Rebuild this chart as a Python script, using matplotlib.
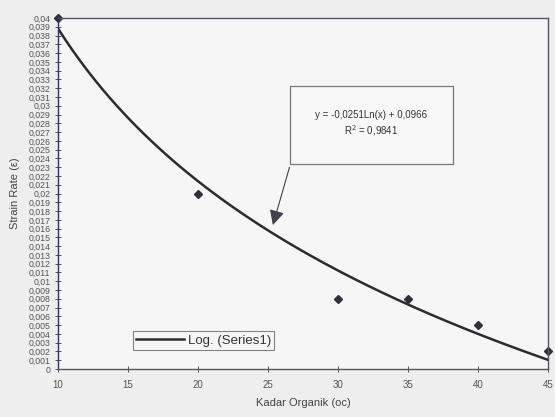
import numpy as np
import matplotlib.pyplot as plt
from matplotlib.ticker import MultipleLocator, FuncFormatter

plt.rcParams['font.family'] = ['Liberation Sans', 'DejaVu Sans']

# ── data ──────────────────────────────────────────────────────────────────────
kadar = [10, 20, 30, 35, 40, 45]
strain = [0.04, 0.02, 0.008, 0.008, 0.005, 0.002]

# log trend line: y = a*ln(x) + b
fit_a = -0.0251
fit_b = 0.0966
fit_r2 = 0.9841

x_ticks = [10, 15, 20, 25, 30, 35, 40, 45]


def comma_fmt(v, pos):
    if abs(v) < 1e-9:
        return '0'
    s = f'{v:.3f}'.rstrip('0').rstrip('.')
    return s.replace('.', ',')


# ── plot ──────────────────────────────────────────────────────────────────────
fig = plt.figure(figsize=(5.55, 4.17), dpi=100)
fig.patch.set_facecolor('#eeeeee')
ax = fig.add_axes([0.1045, 0.1151, 0.8825, 0.8417])
ax.set_facecolor('#f6f6f6')

xs = np.linspace(10, 45, 200)
ax.plot(xs, fit_a * np.log(xs) + fit_b, color='#2b2b30', linewidth=1.8,
        label='Log. (Series1)')
ax.plot(kadar, strain, linestyle='none', marker='D', markersize=3.6,
        color='#303038', clip_on=False)

ax.set_xlim(10, 45)
ax.set_ylim(0, 0.04)
ax.set_xticks(x_ticks)
ax.yaxis.set_major_locator(MultipleLocator(0.001))
ax.yaxis.set_major_formatter(FuncFormatter(comma_fmt))
ax.tick_params(axis='both', direction='inout', length=4, width=0.7,
               colors='#555555', labelsize=6.3)
ax.tick_params(axis='x', labelsize=7, pad=6)

for name, spine in ax.spines.items():
    spine.set_edgecolor('#555560')
    spine.set_linewidth(1.0)
ax.spines['left'].set_edgecolor('#30306a')

ax.set_xlabel('Kadar Organik (oc)', fontsize=8, color='#444444', labelpad=6)
ax.set_ylabel('Strain Rate (ε)', fontsize=8, color='#444444', labelpad=6)

# equation box with arrow pointing at the trend line
ax.annotate('', xy=(25.3, 0.0161), xytext=(26.6, 0.0233),
            arrowprops=dict(arrowstyle='-|>,head_length=0.9,head_width=0.45',
                            color='#404048', linewidth=0.8))
ax.text(32.4, 0.0279,
        f'y = {fit_a:.4f}Ln(x) + {fit_b:.4f}\nR$^2$ = {fit_r2:.4f}'.replace('.', ','),
        fontsize=7, color='#333333', ha='center', va='center',
        linespacing=1.3,
        bbox=dict(boxstyle='square,pad=2.65', facecolor='#f8f8f8',
                  edgecolor='#777777', linewidth=0.9))

leg = ax.legend(loc='lower left', bbox_to_anchor=(0.153, 0.054),
                borderaxespad=0, fontsize=9.5, frameon=True, fancybox=False,
                handlelength=3.6, borderpad=0.25, handletextpad=0.3)
leg.get_frame().set_edgecolor('#666666')
leg.get_frame().set_linewidth(0.8)
leg.get_frame().set_facecolor('#f6f6f6')
for t in leg.get_texts():
    t.set_color('#333333')

fig.savefig('out.png', dpi=100, facecolor=fig.get_facecolor())
